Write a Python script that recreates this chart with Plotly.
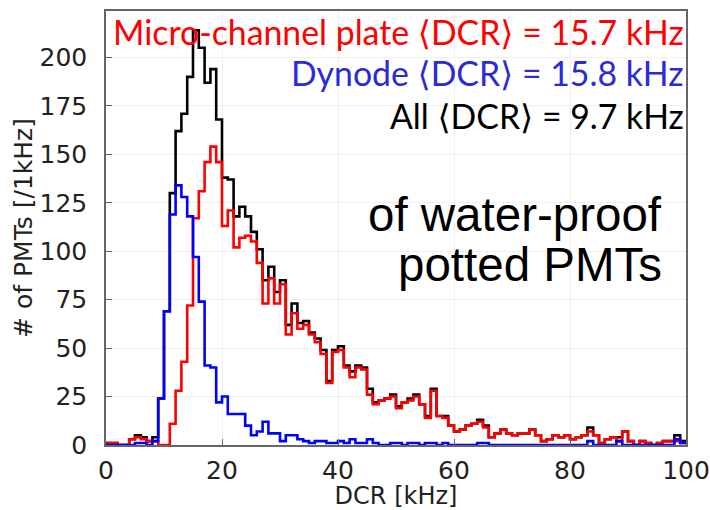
import plotly.graph_objects as go

# Dark count rate histogram, 1 kHz bins from 0 to 100 kHz
bin_edges = list(range(0, 101))

counts_mcp = [
    1, 1, 0, 0, 3, 4, 3, 2, 2, 0,
    0, 11, 28, 43, 72, 117, 131, 146, 154, 146,
    113, 121, 102, 107, 108, 105, 94, 73, 86, 73,
    83, 57, 68, 60, 62, 57, 53, 47, 32, 48,
    49, 40, 35, 40, 39, 26, 21, 23, 24, 25,
    19, 22, 23, 25, 21, 14, 28, 15, 14, 10,
    7, 8, 10, 11, 12, 9, 4, 6, 8, 6,
    5, 6, 6, 8, 5, 2, 3, 5, 4, 5,
    3, 4, 5, 7, 5, 1, 3, 4, 2, 7,
    2, 0, 2, 1, 0, 1, 2, 2, 2, 1,
]

counts_dynode = [
    0, 0, 0, 0, 0, 1, 1, 0, 2, 24,
    69, 119, 134, 128, 118, 97, 74, 41, 40, 22,
    25, 16, 16, 16, 10, 5, 7, 12, 6, 6,
    2, 5, 5, 3, 2, 1, 2, 2, 1, 1,
    2, 1, 3, 1, 1, 3, 1, 0, 0, 1,
    1, 0, 1, 1, 0, 1, 1, 0, 1, 0,
    0, 0, 0, 0, 1, 1, 0, 0, 0, 0,
    0, 0, 0, 0, 0, 0, 0, 0, 0, 0,
    0, 0, 0, 2, 0, 0, 0, 0, 2, 0,
    0, 0, 0, 0, 0, 0, 0, 0, 3, 1,
]

counts_all = [
    1, 1, 0, 0, 3, 5, 4, 2, 4, 24,
    69, 130, 162, 171, 190, 214, 205, 187, 194, 168,
    138, 137, 118, 123, 118, 110, 101, 85, 92, 79,
    85, 62, 73, 63, 64, 58, 55, 49, 33, 49,
    51, 41, 38, 41, 40, 29, 22, 23, 24, 26,
    20, 22, 24, 26, 21, 15, 29, 15, 15, 10,
    7, 8, 10, 11, 13, 10, 4, 6, 8, 6,
    5, 6, 6, 8, 5, 2, 3, 5, 4, 5,
    3, 4, 5, 9, 5, 1, 3, 4, 4, 7,
    2, 0, 2, 1, 0, 1, 2, 2, 5, 2,
]

x_ticks = [0, 20, 40, 60, 80, 100]
y_ticks = [0, 25, 50, 75, 100, 125, 150, 175, 200]

label_mcp = "Micro-channel plate \u27e8DCR\u27e9 = 15.7 kHz"
label_dynode = "Dynode \u27e8DCR\u27e9 = 15.8 kHz"
label_all = "All \u27e8DCR\u27e9 = 9.7 kHz"
note_lines = ["of water-proof", "potted PMTs"]


def step(counts):
    # repeat the last count so the final bin gets its right edge
    return counts + [counts[-1]]


fig = go.Figure()
for counts, color in [(counts_all, "#000000"),
                      (counts_mcp, "#FF0000"),
                      (counts_dynode, "#0000FF")]:
    fig.add_trace(go.Scatter(
        x=bin_edges, y=step(counts), mode="lines",
        line=dict(shape="hv", color=color, width=2.6),
        showlegend=False, hoverinfo="skip",
    ))

label_font = "Lato, 'DejaVu Sans', sans-serif"
for text, color, ypos in [(label_mcp, "#FF0000", 0.952),
                          (label_dynode, "#2B2BD6", 0.858),
                          (label_all, "#000000", 0.757)]:
    fig.add_annotation(
        text=text, xref="paper", yref="paper", x=1, y=ypos,
        xanchor="right", yanchor="middle", xshift=0, showarrow=False,
        font=dict(family=label_font, size=33.8, color=color),
    )

for text, ypos in zip(note_lines, [0.53, 0.415]):
    fig.add_annotation(
        text=text, xref="paper", yref="paper", x=0.955, y=ypos,
        xanchor="right", yanchor="middle", xshift=4, showarrow=False,
        font=dict(family="'Liberation Sans', Arial, sans-serif", size=47.5,
                  color="#000000"),
    )

axis_font = "'DejaVu Sans', sans-serif"
axis_common = dict(
    showline=True, linecolor="#666666", linewidth=1.5, mirror=True,
    ticks="inside", ticklen=6, tickcolor="#666666",
    showgrid=True, gridcolor="#EFEFEF", gridwidth=1, zeroline=False,
    automargin=False,
    tickfont=dict(family=axis_font, size=25, color="#222222"),
)

fig.update_xaxes(
    range=[0, 100], tickvals=x_ticks, ticklabelstandoff=2,
    title=dict(text="DCR [kHz]", standoff=4,
               font=dict(family=axis_font, size=24, color="#222222")),
    **axis_common,
)
fig.update_yaxes(
    range=[0, 224], tickvals=y_ticks, ticklabelstandoff=12,
    title=dict(text="# of PMTs [/1kHz]", standoff=0,
               font=dict(family=axis_font, size=25, color="#222222")),
    **axis_common,
)

fig.update_layout(
    width=710, height=510,
    margin=dict(l=106, r=24, t=11, b=65),
    paper_bgcolor="white", plot_bgcolor="white",
)

fig.write_html("out.html")
